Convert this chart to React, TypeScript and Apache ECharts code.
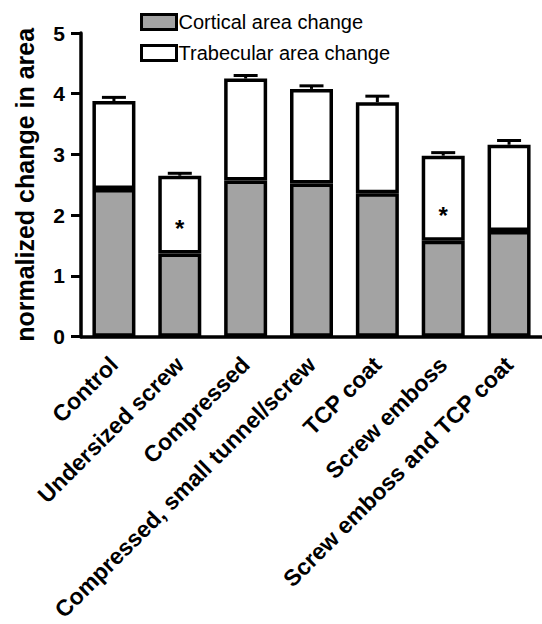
import React, { useEffect, useRef } from "react";
import * as echarts from "echarts";

const categories = [
  "Control",
  "Undersized screw",
  "Compressed",
  "Compressed, small tunnel/screw",
  "TCP coat",
  "Screw emboss",
  "Screw emboss and TCP coat",
];
const cortical = [2.43, 1.37, 2.57, 2.52, 2.36, 1.58, 1.74];
const trabecular = [1.45, 1.28, 1.68, 1.56, 1.5, 1.4, 1.42];
const sem = [0.06, 0.04, 0.05, 0.05, 0.1, 0.05, 0.07];
const asteriskY: (number | null)[] = [null, 1.78, null, null, null, 2.0, null];
const yTicks = [0, 1, 2, 3, 4, 5];

const FONT = "'Liberation Sans', Arial, Helvetica, sans-serif";

export default function App() {
  const ref = useRef<HTMLDivElement>(null);
  useEffect(() => {
    if (!ref.current) return;
    const chart = echarts.init(ref.current, undefined, { renderer: "svg" });
    const errData = categories.map((_, i) => [
      i,
      cortical[i] + trabecular[i],
      cortical[i] + trabecular[i] + sem[i],
    ]);
    const starData = asteriskY
      .map((v, i) => (v == null ? null : [i, v]))
      .filter((d) => d !== null);
    chart.setOption({
      animation: false,
      textStyle: { fontFamily: FONT },
      legend: {
        orient: "vertical",
        left: 140,
        top: 12,
        padding: 0,
        itemWidth: 35,
        itemHeight: 15,
        itemGap: 11,
        icon: "rect",
        textStyle: { fontSize: 20, color: "#000", fontFamily: FONT, padding: [0, 0, 0, -3] },
        data: [
          { name: "Cortical area change", itemStyle: { color: "#a3a3a3", borderColor: "#000", borderWidth: 3 } },
          { name: "Trabecular area change", itemStyle: { color: "#fff", borderColor: "#000", borderWidth: 3 } },
        ],
      },
      grid: { left: 81, top: 33, width: 463, height: 307 },
      xAxis: {
        type: "category",
        data: categories,
        axisLine: { lineStyle: { color: "#000", width: 3.5 } },
        axisTick: { alignWithLabel: true, length: 11, lineStyle: { width: 3, color: "#000" } },
        axisLabel: {
          interval: 0,
          rotate: 45,
          margin: 24,
          fontSize: 23,
          fontWeight: "bold",
          color: "#000",
          fontFamily: FONT,
        },
      },
      yAxis: {
        type: "value",
        min: 0,
        max: 5,
        interval: 1,
        name: "normalized change in area",
        nameLocation: "middle",
        nameGap: 44,
        nameTextStyle: { fontSize: 25, fontWeight: "bold", color: "#000", fontFamily: FONT },
        splitLine: { show: false },
        axisLine: { show: true, lineStyle: { color: "#000", width: 3.5 } },
        axisTick: { show: true, length: 10, lineStyle: { width: 3, color: "#000" } },
        axisLabel: {
          margin: 16,
          fontSize: 21,
          fontWeight: "bold",
          color: "#000",
          fontFamily: FONT,
          formatter: (v: number) => (yTicks.includes(v) ? String(v) : ""),
        },
      },
      series: [
        {
          name: "Cortical area change",
          type: "bar",
          stack: "a",
          barWidth: 43,
          data: cortical,
          itemStyle: { color: "#a3a3a3", borderColor: "#000", borderWidth: 3.5 },
        },
        {
          name: "Trabecular area change",
          type: "bar",
          stack: "a",
          barWidth: 43,
          data: trabecular,
          itemStyle: { color: "#fff", borderColor: "#000", borderWidth: 3.5 },
        },
        {
          type: "custom",
          z: 5,
          data: errData,
          renderItem: (params: any, api: any) => {
            const base = api.coord([api.value(0), api.value(1)]);
            const top = api.coord([api.value(0), api.value(2)]);
            const hw = 12;
            return {
              type: "group",
              children: [
                {
                  type: "line",
                  shape: { x1: base[0], y1: base[1], x2: top[0], y2: top[1] },
                  style: { stroke: "#000", lineWidth: 3 },
                },
                {
                  type: "line",
                  shape: { x1: top[0] - hw, y1: top[1], x2: top[0] + hw, y2: top[1] },
                  style: { stroke: "#000", lineWidth: 3 },
                },
              ],
            };
          },
        },
        {
          type: "custom",
          z: 6,
          data: starData,
          renderItem: (params: any, api: any) => {
            const p = api.coord([api.value(0), api.value(1)]);
            return {
              type: "text",
              x: p[0],
              y: p[1],
              style: {
                text: "*",
                fontSize: 24,
                fontWeight: "bold",
                fontFamily: FONT,
                fill: "#000",
                align: "center",
                verticalAlign: "middle",
              },
            };
          },
        },
      ],
    });
    return () => chart.dispose();
  }, []);
  return (
    <div
      ref={ref}
      style={{ position: "fixed", left: 0, top: 0, width: 542, height: 624, background: "#fff" }}
    />
  );
}
